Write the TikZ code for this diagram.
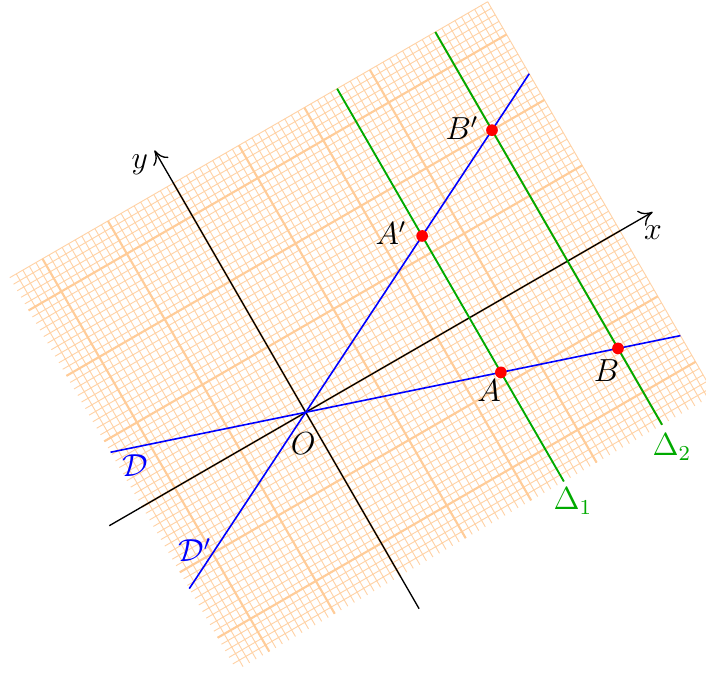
\documentclass[tikz,border=0pt]{standalone}
\usepackage{amsmath}
\usetikzlibrary{arrows.meta}
\definecolor{dgreen}{RGB}{0,170,0}
\tikzset{
  minorgrid/.style={orange!35, line width=0.35pt},
  majorgrid/.style={orange!40, line width=0.8pt},
  axis/.style={black, line width=0.5pt, -{To[length=5pt,width=6.5pt]}},
  dline/.style={blue, line width=0.6pt},
  deltaline/.style={dgreen, line width=0.7pt},
  pt/.style={circle, fill=red, inner sep=0pt, minimum size=4.4pt},
  lab/.style={font=\large, inner sep=0pt},
}
\begin{document}
\begin{tikzpicture}[x=1cm,y=1cm]
\useasboundingbox (-4.044,-3.448) rectangle (5.295,5.454);
\clip (-4.044,-3.448) rectangle (5.295,5.454);
\begin{scope}[rotate=30]
  \draw[minorgrid, step=0.1] (-2.5,-2.5) grid (4.8,3.5);
  \draw[majorgrid, step=1] (-2.5,-2.5) grid (4.8,3.5);
  \coordinate (O) at (0,0);
  \coordinate (xs) at (-3,0);
  \coordinate (xe) at (5.3,0);
  \coordinate (ys) at (0,-3);
  \coordinate (ye) at (0,4);
  \coordinate (d1) at (-2.5,0.8333);
  \coordinate (d2) at (4.8,-1.6);
  \coordinate (e1) at (-2.5,-1.25);
  \coordinate (e2) at (4.8,2.4);
  \coordinate (g1) at (2.5,-2.5);
  \coordinate (g2) at (2.5,3.5);
  \coordinate (h1) at (4,-2.5);
  \coordinate (h2) at (4,3.5);
  \coordinate (A) at (2.5,-0.8333);
  \coordinate (B) at (4,-1.3333);
  \coordinate (Ap) at (2.5,1.25);
  \coordinate (Bp) at (4,2);
  \draw[axis] (xs) -- (xe);
  \draw[axis] (ys) -- (ye);
  \draw[deltaline] (g1) -- (g2);
  \draw[deltaline] (h1) -- (h2);
  \draw[dline] (d1) -- (d2);
  \draw[dline] (e1) -- (e2);
  \node[pt] (nA) at (A) {};
  \node[pt] (nB) at (B) {};
  \node[pt] (nAp) at (Ap) {};
  \node[pt] (nBp) at (Bp) {};
\end{scope}
\node[lab] (lO) at (-0.032,-0.419) {$O$};
\node[lab] (lA) at (2.425,0.282) {$A$};
\node[lab] (lB) at (3.979,0.546) {$B$};
\node[lab] (lAp) at (1.128,2.373) {$A'$};
\node[lab] (lBp) at (2.067,3.761) {$B'$};
\node[lab] (lx) at (4.594,2.373) {$x$};
\node[lab] (ly) at (-2.193,3.271) {$y$};
\node[lab, text=dgreen] (lg) at (3.536,-1.173) {$\Delta_1$};
\node[lab, text=dgreen] (lh) at (4.845,-0.458) {$\Delta_2$};
\node[lab, text=blue] (ld) at (-2.258,-0.710) {$\mathcal{D}$};
\node[lab, text=blue] (le) at (-1.465,-1.821) {$\mathcal{D}'$};
\end{tikzpicture}
\end{document}
